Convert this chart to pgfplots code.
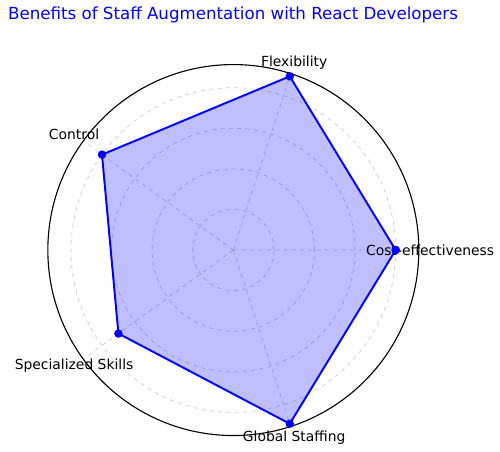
\documentclass[border=0pt]{standalone}
\usepackage{pgfplots}
\pgfplotsset{compat=1.18}
\usepgfplotslibrary{polar}
\usepackage{fontspec}
\setmainfont{DejaVu Sans}
\begin{document}
\begin{tikzpicture}
\path[use as bounding box] (0,0) rectangle (360pt,325.44pt);
\begin{polaraxis}[
  at={(168pt,145.4pt)}, anchor=center,
  scale only axis, width=267.1pt, height=267.1pt,
  ymin=0, ymax=9.14,
  xtick={0,72,144,216,288}, xticklabels={},
  ytick={2,4,6,8}, yticklabels={},
  grid=major,
  major grid style={black!20, dashed, line width=0.5pt},
  axis line style={black, line width=0.8pt},
  y axis line style={draw=none},
  major tick length=0pt,
  clip=false,
]
\addplot[blue, line width=1.4pt, fill=blue, fill opacity=0.25, draw opacity=1,
  mark=*, mark size=2.3pt, mark options={fill=blue, fill opacity=1}]
  coordinates {(0,8) (72,9) (144,8) (216,7) (288,9) (360,8)};
\node[font=\fontsize{10}{12}\selectfont] at (axis cs:0,9.7) {Cost-effectiveness};
\node[font=\fontsize{10}{12}\selectfont] at (axis cs:72,9.7) {Flexibility};
\node[font=\fontsize{10}{12}\selectfont] at (axis cs:144,9.7) {Control};
\node[font=\fontsize{10}{12}\selectfont] at (axis cs:216,9.7) {Specialized Skills};
\node[font=\fontsize{10}{12}\selectfont] at (axis cs:288,9.7) {Global Staffing};
\end{polaraxis}
\node[blue, font=\fontsize{12}{14}\selectfont] at (167.8pt,314.4pt) {Benefits of Staff Augmentation with React Developers};
\end{tikzpicture}
\end{document}
